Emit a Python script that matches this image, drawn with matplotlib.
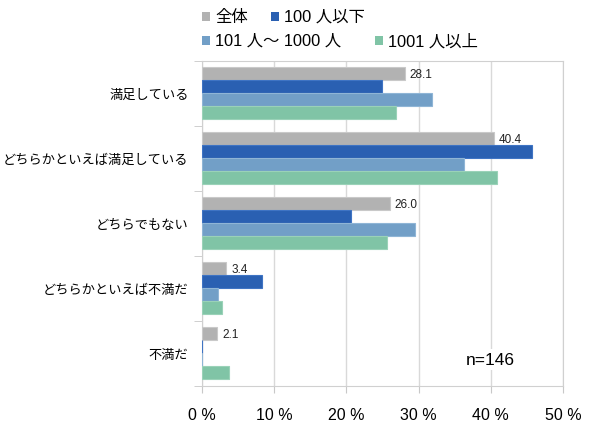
import numpy as np
import matplotlib.pyplot as plt
from matplotlib.patches import Rectangle

plt.rcParams['font.family'] = ['Liberation Sans', 'Noto Sans CJK JP', 'DejaVu Sans']

categories = ["満足している", "どちらかといえば満足している", "どちらでもない",
              "どちらかといえば不満だ", "不満だ"]
series = ["全体", "100 人以下", "101 人〜 1000 人", "1001 人以上"]
all_vals = [28.1, 40.4, 26.0, 3.4, 2.1]
small_vals = [25.0, 45.7, 20.7, 8.3, 0.0]
mid_vals = [31.8, 36.3, 29.5, 2.3, 0.0]
large_vals = [26.9, 40.9, 25.6, 2.8, 3.8]

colors = ["#b2b2b2", "#2a60b2", "#729fc7", "#80c4a6"]
edges = ["#c9c9c9", "#3f74c4", "#8fb5d6", "#9ad2b8"]

fig = plt.figure(figsize=(5.9, 4.31), dpi=100)
ax = fig.add_axes([0.3419, 0.1028, 0.6124, 0.7541])

y = np.arange(len(categories))
h = 0.2
data = [all_vals, small_vals, mid_vals, large_vals]
for i, vals in enumerate(data):
    ax.barh(y + (i - 1.5) * h, vals, height=h, color=colors[i],
            edgecolor=edges[i], linewidth=0.8, zorder=3)

# labels on the total bars
for yi, v in zip(y, all_vals):
    ax.text(v + 0.7, yi - 1.5 * h, f"{v:.1f}", va="center", ha="left",
            fontsize=8.5, color="#222222", zorder=4)

ax.set_xlim(0, 50)
ax.set_ylim(len(categories) - 0.5, -0.5)
ax.set_xticks(np.arange(0, 51, 10))
ax.set_xticklabels([f"{t} %" for t in range(0, 51, 10)], fontsize=11.5)
ax.set_yticks(y)
ax.set_yticklabels(categories, fontsize=9.5)
ax.set_yticks(np.arange(-0.5, len(categories), 1), minor=True)
ax.tick_params(axis="y", which="major", length=0, pad=9.5)
ax.tick_params(axis="y", which="minor", length=6, color="#c8c8c8")
ax.tick_params(axis="x", length=5, pad=10, color="#c8c8c8")
ax.grid(axis="x", color="#d9d9d9", linewidth=1, zorder=0)
for s in ax.spines.values():
    s.set_color("#d0d0d0")

ax.text(39.9, 4.1, "n=146", ha="center", va="center", fontsize=12.5,
        bbox=dict(facecolor="white", edgecolor="none", pad=2), zorder=5)

# legend, two rows
W, H = 590, 431
leg_pos = [(201.7, 17.5), (270.7, 17.5), (201.7, 41.5), (375, 41.5)]
for i, (px, py) in enumerate(leg_pos):
    fig.patches.append(Rectangle((px / W, 1 - (py + 4.2) / H), 8.3 / W, 8.3 / H,
                                 transform=fig.transFigure, facecolor=colors[i],
                                 edgecolor="none"))
    fig.text((px + 13.5) / W, 1 - py / H, series[i], fontsize=11.8,
             va="center", ha="left")

fig.savefig("out.png", dpi=100)
